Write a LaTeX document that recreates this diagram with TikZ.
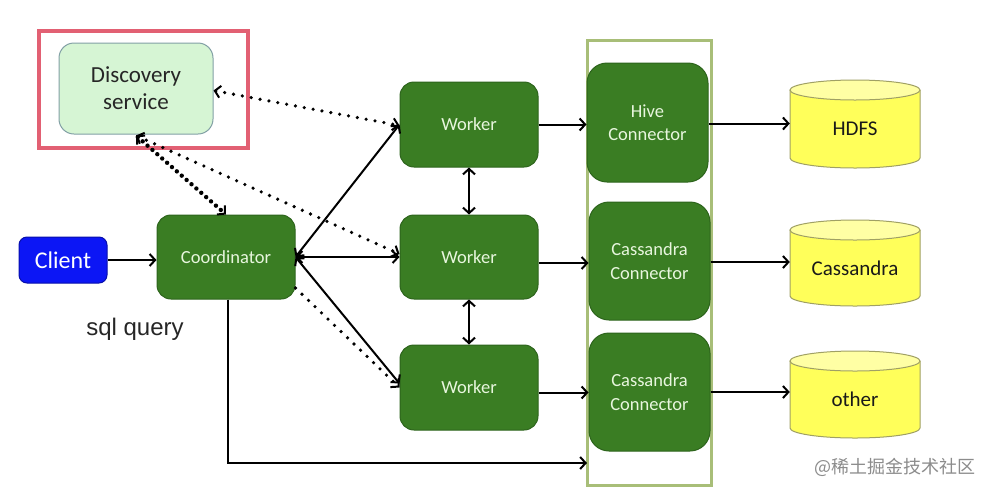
\documentclass[tikz,border=0pt]{standalone}
\usepackage{fontspec}
\setmainfont{Carlito}
\newfontfamily\arialf{Liberation Sans}
\newfontfamily\cjkf{Noto Sans CJK SC}
\usetikzlibrary{arrows.meta}
\pgfdeclarelayer{bg}
\pgfsetlayers{bg,main}
\definecolor{boxgreen}{RGB}{58,125,35}
\definecolor{boxgreenb}{RGB}{45,100,28}
\definecolor{gtext}{RGB}{232,246,222}
\definecolor{discfill}{RGB}{214,245,212}
\definecolor{discb}{RGB}{130,160,165}
\definecolor{clientblue}{RGB}{12,22,245}
\definecolor{cylfill}{RGB}{255,255,90}
\definecolor{cylb}{RGB}{160,160,100}
\definecolor{colb}{RGB}{168,190,120}
\definecolor{redb}{RGB}{226,96,115}
\newcommand\mycyl[3]{%
  \fill[cylfill] (#1-65,#2) -- (#1-65,#3) arc[start angle=180,end angle=0,x radius=65,y radius=10] -- (#1+65,#2) -- cycle;
  \draw[cylb,line width=1pt] (#1-65,#2) -- (#1-65,#3) arc[start angle=180,end angle=0,x radius=65,y radius=10] -- (#1+65,#2);
  \draw[cylb,line width=1pt,fill=cylfill!55!white] (#1,#2) ellipse[x radius=65,y radius=10];
}
\tikzset{
  tipb/.tip={Straight Barb[length=5.5pt,width=12pt,line width=2pt]},
  gbox/.style={draw=boxgreenb, fill=boxgreen, rounded corners=14pt, text=gtext,
    font=\fontsize{18.5}{23.5}\selectfont, align=center, inner sep=0pt, line width=1pt},
  conbox/.style={gbox, rounded corners=20pt},
  arr/.style={-tipb, line width=2pt},
  darr/.style={tipb-tipb, line width=2pt},
  dots/.style={line width=3.6pt, line cap=round, dash pattern=on 0pt off 9pt},
  hdots/.style={line width=4.4pt, line cap=round, dash pattern=on 0pt off 6.5pt},
  cyltext/.style={inner sep=0pt, minimum width=130pt, minimum height=88pt,
    font=\fontsize{21}{25}\selectfont, text=black!90},
}
\begin{document}
\begin{tikzpicture}[x=1pt,y=-1pt]
\useasboundingbox[fill=white] (0,0) rectangle (992,496);

% focus frame and connector column
\node[draw=redb, line width=4pt, minimum width=209pt, minimum height=117pt, inner sep=0pt] (focus) at (143.5,89.5) {};
\node[draw=colb, line width=3pt, minimum width=124pt, minimum height=445pt, inner sep=0pt] (col) at (649,262.5) {};

% nodes
\node[draw=discb, fill=discfill, rounded corners=15pt, line width=1pt, minimum width=154pt, minimum height=91pt,
  align=center, inner sep=0pt, text=black!85, font=\fontsize{23}{27}\selectfont] (disc) at (136,88.5) {Discovery\\service};
\node[draw=clientblue!70!black, fill=clientblue, rounded corners=8pt, line width=1pt, minimum width=88pt, minimum height=46pt,
  inner sep=0pt, text=white, font=\fontsize{24}{28}\selectfont] (client) at (63,260) {Client};
\node[gbox, minimum width=138pt, minimum height=84pt] (coord) at (226,257) {Coordinator};
\node[gbox, minimum width=138pt, minimum height=85pt] (w1) at (469,124.5) {Worker};
\node[gbox, minimum width=138pt, minimum height=84pt] (w2) at (469,257) {Worker};
\node[gbox, minimum width=138pt, minimum height=85pt] (w3) at (469,387.5) {Worker};
\node[conbox, minimum width=121pt, minimum height=119pt] (hive) at (647.5,122.5) {Hive\\Connector};
\node[conbox, minimum width=121pt, minimum height=118pt] (cas1) at (649.5,261) {Cassandra\\Connector};
\node[conbox, minimum width=121pt, minimum height=118pt] (cas2) at (649.5,392) {Cassandra\\Connector};

\mycyl{855}{90}{158}
\mycyl{855}{230}{296}
\mycyl{855}{361}{428}
\node[cyltext] (hdfs) at (855,129) {HDFS};
\node[cyltext] (cass) at (855,268) {Cassandra};
\node[cyltext] (other) at (855,399) {other};

\node[font=\arialf\fontsize{24}{28}\selectfont, text=black!85] (sql) at (135,329) {sql query};
\node[font=\cjkf\fontsize{18}{20}\selectfont, text=black!45] (wm) at (895,467) {@稀土掘金技术社区};

% dotted registration links
\begin{pgfonlayer}{bg}
\draw[dots] ([yshift=-1pt]disc.south) -- (w3.west);
\end{pgfonlayer}
\draw[dots, tipb-tipb] ([yshift=-2pt]disc.east) -- ([yshift=-1pt]w1.west);
\draw[dots, tipb-tipb] ([yshift=-1pt]disc.south) -- ([yshift=3pt]w2.west);
\draw[hdots, tipb-tipb] ([yshift=-1pt]disc.south) -- (coord.north);
\draw[dots, -tipb] (coord.east |- 0,288) -- (w3.west);

% solid links
\draw[arr] (client.east) -- (client.east -| coord.west);
\draw[darr] (coord.east) -- (w1.west);
\draw[darr] (coord.east) -- (w2.west);
\draw[darr] (coord.east) -- ([yshift=4pt]w3.west);
\draw[darr] (w1.south) -- (w2.north);
\draw[darr] (w2.south) -- (w3.north);
\coordinate (colin) at (587,463);
\draw[arr] ([xshift=2pt]coord.south) |- (colin);
\draw[arr] (w1.east) -- (w1.east -| hive.west);
\draw[arr] ([yshift=-6pt]w2.east) -- ([yshift=-6pt]w2.east -| cas1.west);
\draw[arr] ([yshift=-5pt]w3.east) -- ([yshift=-5pt]w3.east -| cas2.west);
\draw[arr] ([yshift=-1pt]hive.east) -- ([yshift=-1pt]hive.east -| hdfs.west);
\draw[arr] ([yshift=-1pt]cas1.east) -- ([yshift=-1pt]cas1.east -| cass.west);
\draw[arr] (cas2.east) -- (cas2.east -| other.west);
\end{tikzpicture}
\end{document}
